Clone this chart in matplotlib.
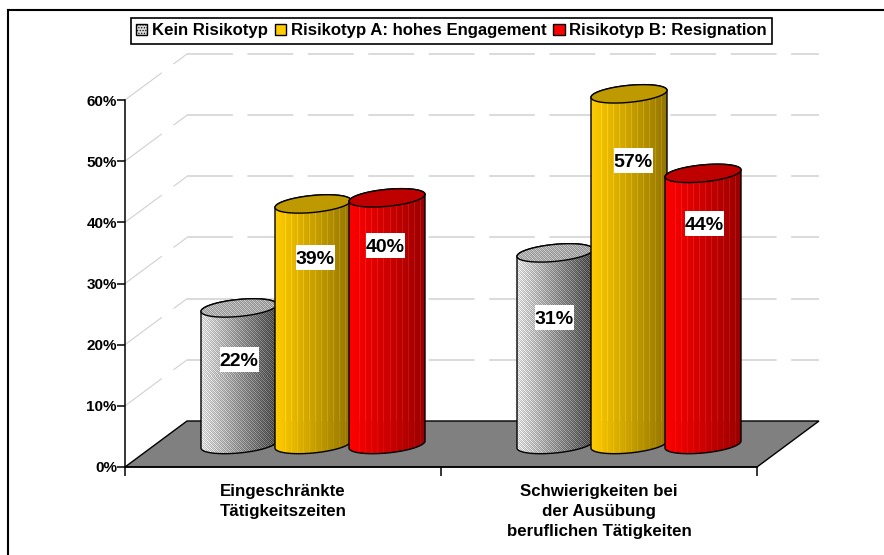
import numpy as np
import matplotlib
matplotlib.use('Agg')
import matplotlib.pyplot as plt
from matplotlib.patches import Polygon, Patch, Rectangle
from matplotlib.lines import Line2D

plt.rcParams['font.family'] = ['Liberation Sans', 'DejaVu Sans']
plt.rcParams['font.weight'] = 'bold'
plt.rcParams['lines.scale_dashes'] = False
plt.rcParams['hatch.linewidth'] = 0.5

categories = ['Eingeschränkte\nTätigkeitszeiten',
              'Schwierigkeiten bei\nder Ausübung\nberuflichen Tätigkeiten']
series = ['Kein Risikotyp', 'Risikotyp A: hohes Engagement', 'Risikotyp B: Resignation']
kein = [22, 31]
typ_a = [39, 57]
typ_b = [40, 44]
yticks = [0, 10, 20, 30, 40, 50, 60]

# label nudges in pixels, picked by eye (down from value level, right from bar centre)
label_down = [[27, 29, 23], [40, 42, 26]]
label_right = [[0, 2, -2], [-1, 4, 1]]

W, H = 884, 555
fig = plt.figure(figsize=(W / 100, H / 100), dpi=100)
ax = fig.add_axes([125 / W, (H - 467) / H, 632 / W, 367 / H])
ax.patch.set_alpha(0)
XMAX, YMAX = 2, 60
PX = XMAX / 632
PY = YMAX / 367
DEPTH_X, DEPTH_Y = 62 * PX, 46 * PY
R, B, TILT = 38, 8.5, 3.5
BASE_UP = 24.5 * PY
BASE_DROP = 2 * PY
STEP = 74 * PX


def gradient(left, right, w, h, floor_row):
    left, right = np.array(left), np.array(right)
    t = np.linspace(0, 1, w)[:, None]
    row = left + (right - left) * t
    img = np.repeat(row[None, :, :], h, axis=0)
    # thin light stripes of the facets, weaker on the floor part
    cols = np.arange(10, w - 4, 6)
    img[:floor_row, cols] = np.clip(img[:floor_row, cols] + 0.08, 0, 1)
    img[floor_row:, cols] = np.clip(img[floor_row:, cols] + 0.04, 0, 1)
    return img


def dither(w, h, lo, hi):
    j, i = np.indices((h, w))
    grad = np.linspace(lo, hi, w)[None, :]
    pat = ((i + j) % 2 == 0) * 0.14 - 0.07 + ((i - j) % 4 == 0) * 0.10 - 0.03
    return np.clip(np.dstack([grad + pat] * 3), 0, 1)


def ellipse(cx, cy, t):
    return np.c_[cx + R * PX * np.cos(t),
                 cy + (TILT * np.cos(t) + B * np.sin(t)) * PY]


def cylinder(cx, value, kind, z):
    y0 = BASE_UP - BASE_DROP
    y1 = value + BASE_UP
    back = np.linspace(np.pi, 0, 60)
    front = np.linspace(0, -np.pi, 60)
    body = np.vstack([ellipse(cx, y1, back), ellipse(cx, y0, front)])
    full = np.linspace(0, 2 * np.pi, 120)

    h = int(round((y1 - y0) / PY + 2 * B)) + 10
    w = 2 * R
    top_y = y1 + (B + 5) * PY
    bot_y = top_y - h * PY
    floor_row = int(round((top_y - 46 * PY) / PY))
    ext = [cx - R * PX, cx + R * PX, bot_y, top_y]

    if kind == 0:
        img = dither(w, h, 0.88, 0.32)
        cap = dither(w, h, 0.70, 0.66)
    elif kind == 1:
        img = gradient((1, 0.8, 0), (0.58, 0.46, 0), w, h, floor_row)
        cap = np.ones((h, w, 3)) * np.array([0.75, 0.6, 0])
    else:
        img = gradient((1, 0, 0), (0.6, 0, 0), w, h, floor_row)
        cap = np.ones((h, w, 3)) * np.array([0.75, 0, 0])

    for pts, im, zz in [(body, img, z), (ellipse(cx, y1, full), cap, z + 0.1)]:
        outline = Polygon(pts, closed=True, fc='none', ec='black', lw=1.0, zorder=zz + 0.05,
                          clip_on=False)
        ax.add_patch(outline)
        shown = ax.imshow(im, extent=ext, aspect='auto', interpolation='nearest', zorder=zz)
        # images get cut at the axes box otherwise, the tall bar pokes out above it
        shown.set_clip_box(fig.bbox)
        shown.set_clip_path(Polygon(pts, closed=True, transform=ax.transData))


# floor
ax.add_patch(Polygon([(0, 0), (XMAX, 0), (XMAX + DEPTH_X, DEPTH_Y), (DEPTH_X, DEPTH_Y)],
                     closed=True, fc='#808080', ec='black', lw=1.0, zorder=1, clip_on=False))

# dashed gridlines on side and back wall
dash = (0, (33, 10.5))
for v in yticks[1:]:
    ax.plot([0, DEPTH_X], [v, v + DEPTH_Y], color='#d0d0d0', lw=0.8, ls=dash, zorder=0.5, clip_on=False)
    ax.plot([DEPTH_X, XMAX + DEPTH_X], [v + DEPTH_Y] * 2, color='#d4d4d4', lw=1.2, ls=dash, zorder=0.5,
            clip_on=False)

values = [kein, typ_a, typ_b]
SHIFT = -1 * PX
for c in range(len(categories)):
    center = c + 0.5 + DEPTH_X / 2 + SHIFT
    for s in range(3):
        cylinder(center + (s - 1) * STEP, values[s][c], s, 2 + s + c * 4)

# data labels
for c in range(len(categories)):
    center = c + 0.5 + DEPTH_X / 2 + SHIFT
    for s in range(3):
        x = center + (s - 1) * STEP + label_right[c][s] * PX
        y = values[s][c] - label_down[c][s] * PY
        ax.add_patch(Rectangle((x - 19.5 * PX, y - 12.5 * PY), 39 * PX, 25 * PY, fc='white', ec='none',
                               zorder=20, clip_on=False))
        ax.text(x, y, f'{values[s][c]}%', ha='center', va='center_baseline', fontsize=14,
                fontweight='bold', zorder=21, clip_on=False)

ax.set_xlim(0, XMAX)
ax.set_ylim(0, YMAX)
ax.set_xticks([0, 1, 2])
ax.set_xticklabels([])
ax.set_yticks(yticks)
ax.set_yticklabels([f'{v}%' for v in yticks], fontsize=11, fontweight='bold')
ax.tick_params(axis='y', length=5.8, width=1.1, pad=0)
ax.tick_params(axis='x', length=6.5, width=1.1)
for side in ['top', 'right']:
    ax.spines[side].set_visible(False)
for side in ['left', 'bottom']:
    ax.spines[side].set_linewidth(1.1)

# category labels
for c, name in enumerate(categories):
    ax.text(c + 0.5, -17 * PY, name, ha='center', va='top', fontsize=12.15, fontweight='bold',
            linespacing=1.42, clip_on=False)

# legend
handles = [Patch(fc='#d8d8d8', ec='black', hatch='......', lw=1.0),
           Patch(fc='#ffcc00', ec='black', lw=1.0),
           Patch(fc='#ff0000', ec='black', lw=1.0)]
leg = fig.legend(handles, series, loc='center', bbox_to_anchor=(451.5 / W, 1 - 31 / H), ncols=3,
                 prop={'size': 12.1, 'weight': 'bold', 'family': ['Liberation Sans']},
                 handlelength=0.66, handleheight=0.66, handletextpad=0.28, columnspacing=0.42,
                 borderpad=0.3, borderaxespad=0, fancybox=False, edgecolor='black', framealpha=1)
leg.get_frame().set_linewidth(1.2)

# partial outer frame, only top and left in the original
fig.add_artist(Line2D([8 / W, 8 / W], [0, 1 - 10 / H], color='black', lw=1.5, transform=fig.transFigure))
fig.add_artist(Line2D([8 / W, 1], [1 - 10 / H, 1 - 10 / H], color='black', lw=1.5, transform=fig.transFigure))

fig.savefig('out.png', dpi=100)
